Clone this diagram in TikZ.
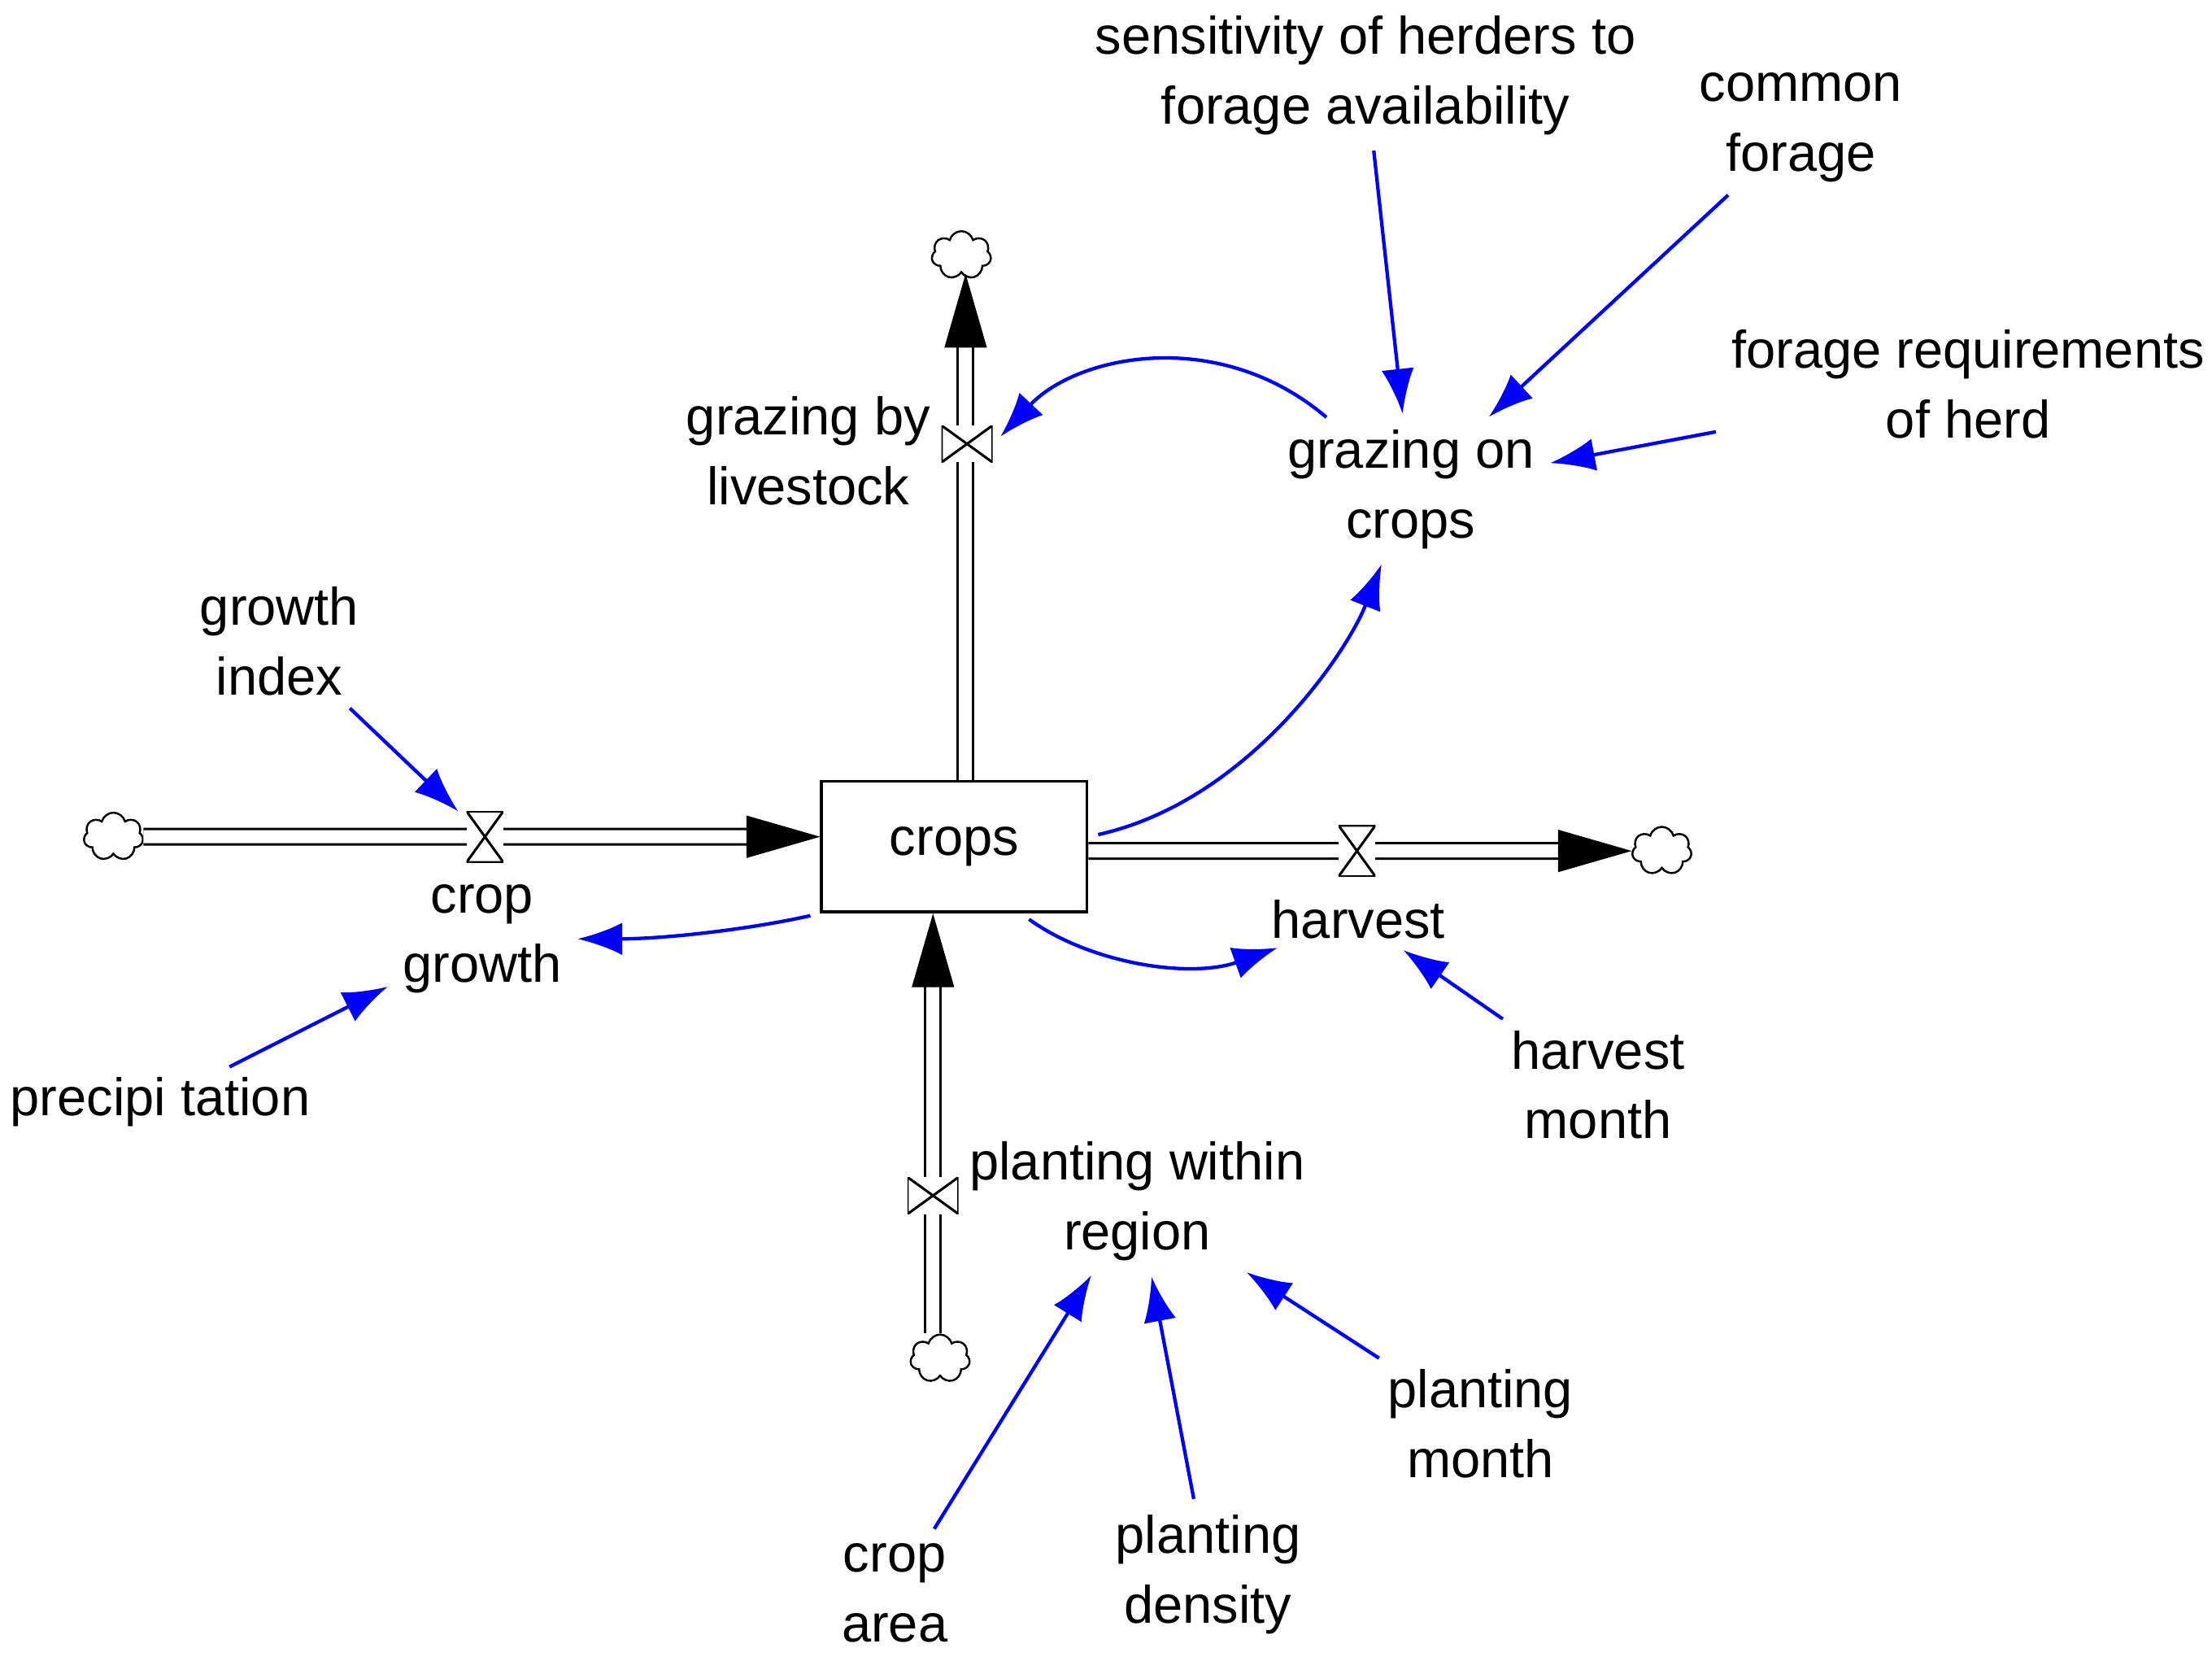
\documentclass[tikz,border=0pt]{standalone}
\usepackage{fontspec}
\setmainfont{Liberation Sans}
\usetikzlibrary{shapes.symbols,arrows.meta,calc}

\tikzset{
  lbl/.style={align=center, inner sep=1pt, font=\fontsize{10.6}{14}\selectfont},
  pipe/.style={double, double distance=2.6pt, line width=0.5pt},
  head/.style={fill=black},
  cloudy/.style={cloud, cloud puffs=7, draw, line width=0.4pt, minimum width=0.42cm, minimum height=0.34cm, inner sep=0pt, fill=white},
  link/.style={blue, line width=0.7pt, -{Latex[length=9pt,width=6.5pt]}, shorten <=2pt, shorten >=2pt},
  valveV/.style={minimum width=0.26cm, minimum height=0.36cm, inner sep=0pt, fill=white,
    path picture={\draw[line width=0.5pt] (path picture bounding box.north west) -- (path picture bounding box.north east) -- (path picture bounding box.south west) -- (path picture bounding box.south east) -- cycle;}},
  valveH/.style={minimum width=0.36cm, minimum height=0.26cm, inner sep=0pt, fill=white,
    path picture={\draw[line width=0.5pt] (path picture bounding box.north west) -- (path picture bounding box.south west) -- (path picture bounding box.north east) -- (path picture bounding box.south east) -- cycle;}}
}

\begin{document}
\begin{tikzpicture}[x=0.01cm, y=-0.01cm]
  \useasboundingbox (0,0) rectangle (1560,1171);
  % Stock
  \node (crops) at (673,597) [draw, line width=0.6pt, minimum width=1.87cm, minimum height=0.92cm, lbl] {crops};

  % Clouds
  \node (leftcloud) at (80,590) [cloudy] {};
  \node (rightcloud) at (1172,600) [cloudy] {};
  \node (upcloud) at (678,180) [cloudy] {};
  \node (downcloud) at (663,958) [cloudy] {};

  % Pipes
  \coordinate (intip) at (crops.west |- leftcloud);
  \coordinate (outtip) at (rightcloud.west);
  \coordinate (uptip) at ($(upcloud.south)+(3,0)$);
  \coordinate (plantip) at ($(crops.south)+(-15,0)$);
  \draw[pipe] (leftcloud.east) -- ($(intip)+(-45,0)$);
  \draw[pipe] (crops.east |- rightcloud) -- ($(outtip)+(-45,0)$);
  \draw[pipe] (uptip |- crops.north) -- ($(uptip)+(0,45)$);
  \draw[pipe] (downcloud.north -| plantip) -- ($(plantip)+(0,50)$);
  \fill[head] (intip) -- ++(-52,-15) -- ++(0,30) -- cycle;
  \fill[head] (outtip) -- ++(-52,-15) -- ++(0,30) -- cycle;
  \fill[head] (uptip) -- ++(-15,52) -- ++(30,0) -- cycle;
  \fill[head] (plantip) -- ++(-15,52) -- ++(30,0) -- cycle;

  % Valves
  \node (growthvalve) at (342,590) [valveV] {};
  \node (harvestvalve) at (957,600) [valveV] {};
  \node (grazevalve) at (682,313) [valveH] {};
  \node (plantvalve) at (658,843) [valveH] {};

  % Flow names
  \node (cropgrowth) at (340,662) [lbl] {crop\\growth};
  \node (harvest) at (958,648) [lbl] {harvest};
  \node (grazingby) at (570,318) [lbl] {grazing by\\livestock};
  \node (planting) at (802,847) [lbl] {planting within\\region};

  % Auxiliaries
  \node (growthindex) at (197,452) [lbl] {growth\\index};
  \node (precip) at (113,777) [lbl] {precipi tation};
  \node (sensitivity) at (963,53) [lbl] {sensitivity of herders to\\forage availability};
  \node (commonforage) at (1270,90) [lbl] {common\\forage};
  \node (foragereq) at (1388,271) [lbl] {forage requirements\\of herd};
  \node (grazingon) at (995,345) [lbl] {grazing on\\crops};
  \node (harvestmonth) at (1127,765) [lbl] {harvest\\month};
  \node (plantmonth) at (1044,1004) [lbl] {planting\\month};
  \node (plantdensity) at (852,1110) [lbl] {planting\\density};
  \node (croparea) at (631,1123) [lbl] {crop\\area};

  % Links
  \draw[link] (growthindex) -- (growthvalve);
  \draw[link] (precip) -- (cropgrowth);
  \draw[link] (sensitivity) -- (grazingon);
  \draw[link] (commonforage) -- (grazingon);
  \draw[link] (foragereq) -- (grazingon);
  \draw[link] (harvestmonth) -- (harvest);
  \draw[link] (plantmonth) -- (planting);
  \draw[link] (plantdensity) -- (planting);
  \draw[link] (croparea) -- (planting);
  \draw[link] (crops.east |- 0,590) .. controls (880,565) and (950,460) .. (grazingon);
  \draw[link] (grazingon) .. controls (860,230) and (760,250) .. (grazevalve.east);
  \draw[link] (crops.south west) .. controls (530,655) and (470,662) .. (cropgrowth);
  \draw[link] ($(crops.south)+(47,0)$) .. controls (770,680) and (840,690) .. (harvest);
\end{tikzpicture}
\end{document}
